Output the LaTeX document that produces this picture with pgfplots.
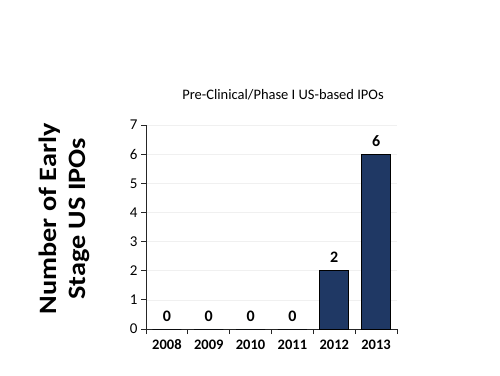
\documentclass[border=0pt]{standalone}
\usepackage{fontspec}
\setmainfont{Carlito}
\newfontfamily\labelfont[FakeStretch=1.13]{Carlito}
\usepackage{pgfplots}
\pgfplotsset{compat=1.18}
\definecolor{barblue}{RGB}{31,56,100}
\begin{document}
\begin{tikzpicture}
\path[use as bounding box, fill=white] (0,0) rectangle (500pt,375pt);
\begin{axis}[
  at={(146pt,46pt)}, anchor=south west,
  scale only axis, width=251pt, height=204pt,
  /pgf/number format/assume math mode=true,
  xmin=-0.5, xmax=5.5, ymin=0, ymax=7,
  axis x line*=bottom, axis y line*=left,
  axis line style={line width=0.9pt, draw=black!85},
  tick align=outside, major tick length=5pt,
  tick style={line width=0.9pt, draw=black!85},
  xtick={-0.5,0.5,...,5.5},
  x tick label as interval,
  xticklabels={2008,2009,2010,2011,2012,2013},
  xticklabel style={font=\bfseries\fontsize{14.5}{14.5}\selectfont, yshift=-2pt},
  ytick={0,1,...,7},
  yticklabel style={font=\fontsize{15}{15}\selectfont},
  ymajorgrids, grid style={black!6, line width=0.6pt},
  ybar, bar width=29pt,
  title={Pre-Clinical/Phase I US-based IPOs},
  title style={at={(axis description cs:0.546,1.12)}, anchor=center, font=\fontsize{14.5}{14.5}\selectfont},
  ylabel={Number of Early\\Stage US IPOs},
  ylabel style={at={(axis description cs:-0.327,0.54)}, anchor=center, rotate=0, align=center, font=\labelfont\bfseries\fontsize{25}{29}\selectfont},
  nodes near coords,
  nodes near coords style={font=\bfseries\fontsize{16}{16}\selectfont, yshift=4pt},
]
\addplot[fill=barblue, draw=black, line width=0.8pt] coordinates {(0,0) (1,0) (2,0) (3,0) (4,2) (5,6)};
\end{axis}
\end{tikzpicture}
\end{document}
